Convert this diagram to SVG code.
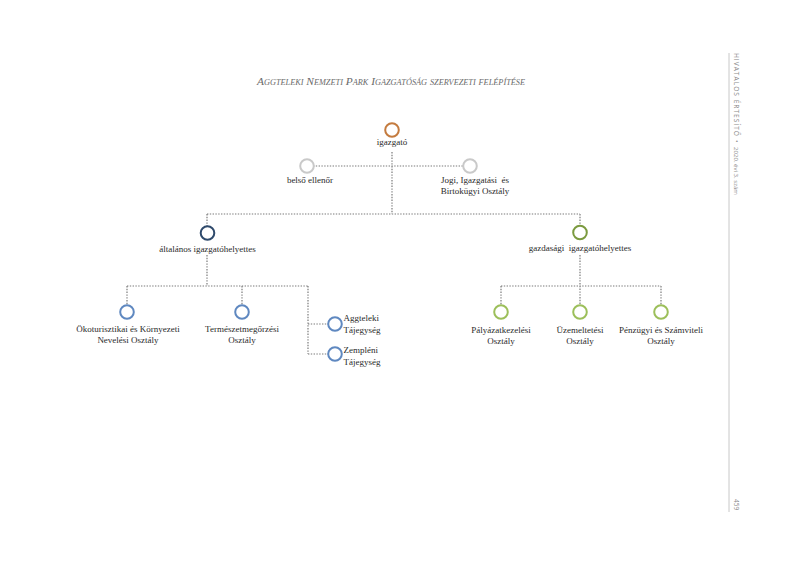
<svg xmlns="http://www.w3.org/2000/svg" width="800" height="566" viewBox="0 0 800 566">
<style>
.t{font-family:"Liberation Serif","Times New Roman",serif;font-size:9px;fill:#2a2a2a;text-anchor:middle}
.l{text-anchor:start}
.c{fill:#fff;stroke-width:2}
.ln{stroke:#7a7a7a;stroke-width:1.2;stroke-dasharray:1.4 1.4;fill:none}
.hd{font-family:"Open Sans","DejaVu Sans",sans-serif;fill:#8a8a8a}
</style>
<rect width="800" height="566" fill="#fff"/>
<text x="391" y="85" font-family="Liberation Serif, serif" font-size="11" font-style="italic" font-variant="small-caps" fill="#6a6a6a" text-anchor="middle" textLength="268" lengthAdjust="spacingAndGlyphs">Aggteleki Nemzeti Park Igazgatóság szervezeti felépítése</text>
<line x1="729" y1="53" x2="729" y2="512" stroke="#c8c8c8" stroke-width="1"/>
<text class="hd" transform="translate(734,53) rotate(90)" font-size="6.5" letter-spacing="1" textLength="84" lengthAdjust="spacingAndGlyphs">HIVATALOS ÉRTESÍTŐ</text>
<text class="hd" transform="translate(734,140) rotate(90)" font-size="6.5">•</text>
<text class="hd" transform="translate(734,147) rotate(90)" font-size="5.8" textLength="48" lengthAdjust="spacingAndGlyphs">2020. évi 3. szám</text>
<text class="hd" transform="translate(734,499) rotate(90)" font-size="6.5">459</text>
<g id="connectors">
<path class="ln" d="M392 152V214M313 166H463M207 214H580M207 214V226M580 214V226M207 255V286M580 255V305M127 286H308M127 286V305M242 286V305M308 286V354M308 324H328M308 354H328M501 286H661M501 286V305M661 286V305"/>
</g>
<g id="igazgato"><circle class="c" cx="392" cy="130" r="6.8" stroke="#c47b3f"/><text class="t" x="392" y="145">igazgató</text></g>
<g id="belso"><circle class="c" cx="307" cy="166" r="6.8" stroke="#c9c9c9"/><text class="t" x="310" y="183">belső ellenőr</text></g>
<g id="jogi"><circle class="c" cx="470" cy="166" r="6.8" stroke="#c9c9c9"/><text class="t" x="475" y="183" xml:space="preserve">Jogi, Igazgatási  és</text><text class="t" x="475" y="194">Birtokügyi Osztály</text></g>
<g id="altalanos"><circle class="c" cx="207.5" cy="233" r="6.8" stroke="#2f4a6c"/><text class="t" x="207.5" y="252">általános igazgatóhelyettes</text></g>
<g id="gazdasagi"><circle class="c" cx="580" cy="232.5" r="6.8" stroke="#7b9a3f"/><text class="t" x="580" y="251" xml:space="preserve">gazdasági  igazgatóhelyettes</text></g>
<g id="okoturisztikai"><circle class="c" cx="127" cy="312" r="6.8" stroke="#5f88c0"/><text class="t" x="128" y="332">Ökoturisztikai és Környezeti</text><text class="t" x="128" y="343">Nevelési Osztály</text></g>
<g id="termeszet"><circle class="c" cx="242" cy="312" r="6.8" stroke="#5f88c0"/><text class="t" x="242" y="332">Természetmegőrzési</text><text class="t" x="242" y="343">Osztály</text></g>
<g id="aggteleki"><circle class="c" cx="335" cy="324" r="6.8" stroke="#5f88c0"/><text class="t l" x="343.5" y="321">Aggteleki</text><text class="t l" x="343.5" y="333">Tájegység</text></g>
<g id="zempleni"><circle class="c" cx="335" cy="354" r="6.8" stroke="#5f88c0"/><text class="t l" x="343.5" y="353">Zempléni</text><text class="t l" x="343.5" y="365">Tájegység</text></g>
<g id="palyazat"><circle class="c" cx="501" cy="312" r="6.8" stroke="#9cbf5a"/><text class="t" x="501" y="333">Pályázatkezelési</text><text class="t" x="501" y="344">Osztály</text></g>
<g id="uzemeltetesi"><circle class="c" cx="580" cy="312" r="6.8" stroke="#9cbf5a"/><text class="t" x="580" y="333">Üzemeltetési</text><text class="t" x="580" y="344">Osztály</text></g>
<g id="penzugyi"><circle class="c" cx="661" cy="312" r="6.8" stroke="#9cbf5a"/><text class="t" x="661" y="333">Pénzügyi és Számviteli</text><text class="t" x="661" y="344">Osztály</text></g>
</svg>
